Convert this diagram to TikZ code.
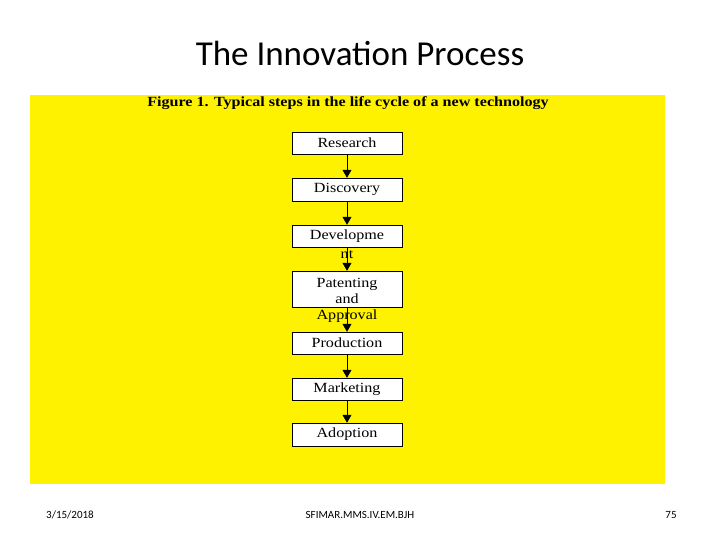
\documentclass[tikz,border=0pt]{standalone}
\usepackage{fontspec}
\setmainfont{Liberation Serif}
\newfontfamily\calfont{Carlito}
\newfontfamily\boxfont[FakeStretch=1.15]{Liberation Serif}
\usetikzlibrary{arrows.meta}
\begin{document}
\begin{tikzpicture}[x=1pt,y=-1pt,
  stepbox/.style={draw=black,fill=white,minimum width=110pt,inner sep=0pt,font=\boxfont\fontsize{14}{14}\selectfont},
  arr/.style={-{Triangle[length=8pt,width=9pt]},line width=0.8pt},
  lbl/.style={font=\boxfont\fontsize{14}{14}\selectfont,inner sep=0pt}]
\useasboundingbox (0,0) rectangle (720,540);
\fill[white] (0,0) rectangle (720,540);
\fill[yellow] (30,95) rectangle (665,484);
\node[font=\calfont\fontsize{35}{35}\selectfont] (title) at (360,53) {The Innovation Process};
\node[font=\boxfont\bfseries\fontsize{14}{14}\selectfont] (cap) at (348,103) {Figure 1. Typical steps in the life cycle of a new technology};
\node[stepbox,minimum height=22pt] (r) at (347,143) {Research};
\node[stepbox,minimum height=23pt] (d) at (347,189.5) {Discovery};
\node[stepbox,minimum height=22pt] (dv) at (347,236) {Developme};
\node[stepbox,minimum height=36pt] (p) at (347,289) {};
\node[lbl,align=center] (pt) at (347,291) {Patenting\\[2pt]and};
\node[stepbox,minimum height=22pt] (pr) at (347,343) {Production};
\node[stepbox,minimum height=22pt] (m) at (347,389) {Marketing};
\node[stepbox,minimum height=23pt] (a) at (347,434.5) {Adoption};
\draw[arr] (r) -- (d);
\draw[arr] (d) -- (dv);
\draw[arr] (dv) -- (p);
\draw[arr] (p) -- (pr);
\draw[arr] (pr) -- (m);
\draw[arr] (m) -- (a);
\node[lbl] (nt) at (347,255) {nt};
\node[lbl] (ap) at (347,316) {Approval};
\node[font=\calfont\fontsize{11}{11}\selectfont] (date) at (70,515) {3/15/2018};
\node[font=\calfont\fontsize{11}{11}\selectfont] (foot) at (360,515) {SFIMAR.MMS.IV.EM.BJH};
\node[font=\calfont\fontsize{11}{11}\selectfont] (num) at (671,515) {75};
\end{tikzpicture}
\end{document}
